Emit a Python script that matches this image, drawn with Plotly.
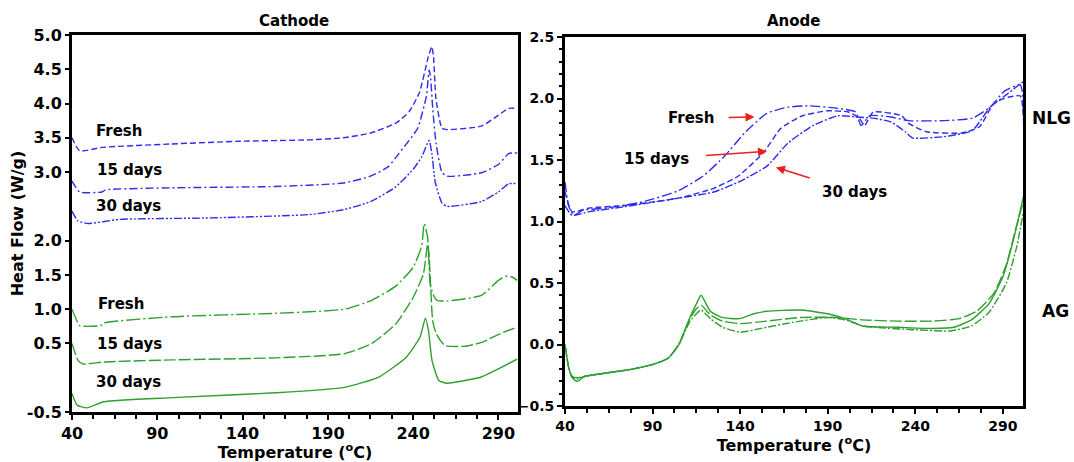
import plotly.graph_objects as go

# ---------------- Cathode (left panel) ----------------
cat_fresh_T = [40, 44.5, 57.6, 98, 138.5, 179, 199, 215, 229.6, 237.6, 243.7, 248.8, 251, 252, 253.4, 256.9, 260, 280, 290, 296, 301]
cat_fresh_Q = [3.50, 3.31, 3.36, 3.41, 3.45, 3.47, 3.50, 3.57, 3.71, 3.88, 4.16, 4.67, 4.83, 4.67, 4.07, 3.64, 3.62, 3.67, 3.83, 3.93, 3.93]

cat_15d_T = [40, 44.5, 57.6, 59.6, 98, 158.7, 199, 215, 225.5, 231.6, 237.6, 242.7, 247.8, 249.4, 250.2, 251.5, 253.5, 256.9, 260, 280, 290, 296, 301]
cat_15d_Q = [2.87, 2.71, 2.71, 2.74, 2.77, 2.79, 2.84, 2.94, 3.08, 3.27, 3.46, 3.64, 4.11, 4.49, 4.39, 3.93, 3.41, 3.00, 2.94, 2.99, 3.11, 3.27, 3.28]

cat_30d_T = [40, 43.4, 49.5, 67.7, 118, 179, 199, 215, 229.6, 240, 245, 249.4, 251, 253, 256.9, 260, 280, 290, 296, 301]
cat_30d_Q = [2.43, 2.29, 2.25, 2.31, 2.33, 2.38, 2.45, 2.57, 2.78, 3.04, 3.22, 3.46, 3.27, 2.85, 2.55, 2.50, 2.57, 2.71, 2.83, 2.83]

cat_g_fresh_T = [40, 44.6, 50.7, 56.7, 58.7, 99, 159.4, 199.7, 215.8, 230, 240, 245, 246.5, 248.5, 250, 252, 254, 260, 280, 290, 294, 298, 301]
cat_g_fresh_Q = [1.00, 0.76, 0.75, 0.76, 0.80, 0.89, 0.94, 1.00, 1.13, 1.34, 1.61, 1.92, 2.25, 2.05, 1.37, 1.20, 1.13, 1.12, 1.20, 1.42, 1.48, 1.47, 1.42]

cat_g_15d_T = [40, 43.6, 46.6, 58.7, 99, 159.4, 199.7, 215.8, 230, 240, 246, 248.5, 249.3, 251.5, 253.6, 258.7, 270.8, 280.8, 290.8, 301]
cat_g_15d_Q = [0.50, 0.25, 0.20, 0.23, 0.26, 0.29, 0.35, 0.50, 0.79, 1.17, 1.51, 1.95, 1.81, 0.83, 0.64, 0.47, 0.46, 0.52, 0.64, 0.74]

cat_g_30d_T = [40, 43, 48.7, 58.7, 99, 159.4, 199.7, 219.9, 236, 244, 247.2, 249, 251.1, 255.1, 260, 280, 290, 301]
cat_g_30d_Q = [-0.23, -0.40, -0.44, -0.35, -0.29, -0.22, -0.14, 0.01, 0.30, 0.59, 0.87, 0.69, 0.25, -0.04, -0.08, 0.01, 0.13, 0.27]

# ---------------- Anode (right panel) ----------------
nlg_fresh_T = [40, 42, 45, 50, 64, 84.5, 104.7, 118.9, 131, 143.2, 155.3, 167.5, 179.6, 195.8, 205.9, 209, 214, 226, 236, 256.5, 272.6, 282.8, 290.9, 300, 302]
nlg_fresh_Q = [1.32, 1.13, 1.05, 1.09, 1.11, 1.16, 1.25, 1.37, 1.53, 1.73, 1.88, 1.93, 1.94, 1.92, 1.89, 1.78, 1.86, 1.85, 1.82, 1.82, 1.84, 1.93, 2.06, 2.11, 1.78]

nlg_15d_T = [40, 44, 54, 74, 104.7, 125, 139, 153.3, 163.4, 175.6, 189.7, 201.8, 208, 211, 216, 232.2, 236, 246.3, 266.6, 276.7, 284.8, 292.9, 300, 302]
nlg_15d_Q = [1.24, 1.08, 1.11, 1.13, 1.19, 1.27, 1.37, 1.56, 1.76, 1.86, 1.90, 1.89, 1.84, 1.78, 1.89, 1.86, 1.80, 1.73, 1.72, 1.77, 1.96, 2.01, 2.02, 1.76]

nlg_30d_T = [40, 44, 54, 74, 104.7, 125, 139, 155.3, 167.5, 181.6, 195.8, 205.9, 216, 226, 234.2, 238.3, 256.5, 272.6, 282.8, 292.9, 300, 302]
nlg_30d_Q = [1.13, 1.05, 1.08, 1.12, 1.19, 1.24, 1.32, 1.45, 1.64, 1.78, 1.86, 1.85, 1.84, 1.81, 1.73, 1.68, 1.69, 1.74, 1.93, 2.04, 2.12, 2.14]

ag_fresh_T = [40, 42, 44, 47, 51, 64.4, 78.6, 90.8, 99, 105, 111, 115, 117.7, 123, 129.5, 139.6, 147.8, 155, 175, 190, 200, 210, 230, 250, 262, 272, 282, 290, 296, 302]
ag_fresh_Q = [0.0, -0.18, -0.27, -0.30, -0.26, -0.23, -0.20, -0.16, -0.11, 0.0, 0.21, 0.33, 0.40, 0.27, 0.22, 0.21, 0.25, 0.27, 0.28, 0.25, 0.21, 0.15, 0.14, 0.13, 0.14, 0.20, 0.33, 0.55, 0.85, 1.22]

ag_15d_T = [40, 42, 44, 47, 51, 64.4, 78.6, 90.8, 99, 105, 111, 115, 117.7, 123, 130, 140, 155, 175, 195, 210, 230, 250, 265, 275, 285, 292, 297, 302]
ag_15d_Q = [0.0, -0.18, -0.26, -0.27, -0.26, -0.23, -0.20, -0.16, -0.11, 0.0, 0.20, 0.29, 0.32, 0.24, 0.19, 0.17, 0.19, 0.22, 0.22, 0.20, 0.19, 0.19, 0.21, 0.27, 0.42, 0.65, 0.92, 1.18]

ag_30d_T = [40, 42, 44, 47, 51, 64.4, 78.6, 90.8, 99, 105, 111, 115, 117.7, 123, 130, 140, 155, 170, 190, 200, 210, 240, 260, 272, 282, 292, 298, 302]
ag_30d_Q = [0.0, -0.18, -0.26, -0.28, -0.26, -0.23, -0.20, -0.16, -0.11, 0.0, 0.18, 0.25, 0.28, 0.21, 0.14, 0.10, 0.14, 0.18, 0.22, 0.20, 0.15, 0.12, 0.11, 0.15, 0.26, 0.50, 0.80, 1.10]

BLUE = "rgb(45,45,240)"
GREEN = "rgb(45,160,45)"
RED = "rgb(235,30,30)"
FONT = "DejaVu Sans, Liberation Sans, Arial, sans-serif"

fig = go.Figure()


def add_curve(x, y, color, dash, xa, ya):
    fig.add_trace(go.Scatter(
        x=x, y=y, mode="lines", xaxis=xa, yaxis=ya,
        line=dict(color=color, width=1.4, dash=dash, shape="spline", smoothing=0.5),
        showlegend=False, hoverinfo="skip",
    ))


# cathode curves
add_curve(cat_fresh_T, cat_fresh_Q, BLUE, "6px,3px", "x", "y")
add_curve(cat_15d_T, cat_15d_Q, BLUE, "8px,3px,2px,3px", "x", "y")
add_curve(cat_30d_T, cat_30d_Q, BLUE, "8px,2px,2px,2px,2px,2px", "x", "y")
add_curve(cat_g_fresh_T, cat_g_fresh_Q, GREEN, "14px,3px,2px,3px", "x", "y")
add_curve(cat_g_15d_T, cat_g_15d_Q, GREEN, "12px,3px", "x", "y")
add_curve(cat_g_30d_T, cat_g_30d_Q, GREEN, "solid", "x", "y")

# anode curves
add_curve(nlg_fresh_T, nlg_fresh_Q, BLUE, "10px,3px,2px,3px", "x2", "y2")
add_curve(nlg_15d_T, nlg_15d_Q, BLUE, "6px,3px", "x2", "y2")
add_curve(nlg_30d_T, nlg_30d_Q, BLUE, "8px,2px,2px,2px", "x2", "y2")
add_curve(ag_fresh_T, ag_fresh_Q, GREEN, "solid", "x2", "y2")
add_curve(ag_15d_T, ag_15d_Q, GREEN, "12px,3px", "x2", "y2")
add_curve(ag_30d_T, ag_30d_Q, GREEN, "8px,2px,2px,2px", "x2", "y2")

left_tickfont = dict(family=FONT, size=16, color="black", weight="bold")
right_tickfont = dict(family=FONT, size=14, color="black", weight="bold")
titlefont = dict(family=FONT, size=16, color="black", weight="bold")


def x_axis(domain, anchor, tickfont):
    return dict(
        domain=domain, anchor=anchor, automargin=False,
        range=[40, 301.5], tick0=40, dtick=50, ticks="outside", ticklen=5, tickwidth=1.5,
        tickcolor="black", showline=True, linewidth=3, linecolor="black", mirror=True,
        showgrid=False, zeroline=False, tickfont=tickfont,
        minor=dict(tick0=40, dtick=12.5, ticks="outside", ticklen=4, tickcolor="black", showgrid=False),
        title=dict(text="Temperature (<sup>o</sup>C)", font=titlefont, standoff=0),
    )


fig.update_layout(
    width=1074, height=462,
    margin=dict(l=0, r=0, t=0, b=0, pad=0),
    paper_bgcolor="white", plot_bgcolor="white",
    xaxis=x_axis([72 / 1074, 518 / 1074], "y", left_tickfont),
    yaxis=dict(
        domain=[1 - 412 / 462, 1 - 35 / 462], anchor="x", range=[-0.5, 5.0], automargin=False,
        tickvals=[-0.5, 0.5, 1.0, 1.5, 2.0, 3.0, 3.5, 4.0, 4.5, 5.0],
        ticktext=["-0.5", "0.5", "1.0", "1.5", "2.0", "3.0", "3.5", "4.0", "4.5", "5.0"],
        ticks="outside", ticklen=4, tickwidth=1.5, tickcolor="black",
        showline=True, linewidth=3, linecolor="black", mirror=True,
        showgrid=False, zeroline=False, tickfont=left_tickfont,
        title=dict(text="Heat Flow (W/g)", font=titlefont, standoff=0),
    ),
    xaxis2=x_axis([565 / 1074, 1023 / 1074], "y2", right_tickfont),
    yaxis2=dict(
        domain=[1 - 406 / 462, 1 - 37 / 462], anchor="x2", range=[-0.5, 2.5], automargin=False,
        tick0=-0.5, dtick=0.5, tickformat=".1f",
        ticks="outside", ticklen=5, tickwidth=1.5, tickcolor="black",
        minor=dict(dtick=0.1, ticks="outside", ticklen=3, tickcolor="black", showgrid=False),
        showline=True, linewidth=3, linecolor="black", mirror=True,
        showgrid=False, zeroline=False, tickfont=right_tickfont,
    ),
)

ann_font = dict(family=FONT, size=15, color="black", weight="bold")
side_font = dict(family=FONT, size=17, color="black", weight="bold")


def paper_label(text, px, py, font):
    return dict(text=text, xref="paper", yref="paper", x=px / 1074, y=1 - py / 462,
                xanchor="center", yanchor="middle", showarrow=False, font=font)


def data_label(text, xa, ya, x, y):
    return dict(text=text, xref=xa, yref=ya, x=x, y=y, xanchor="center", yanchor="middle",
                showarrow=False, font=ann_font)


def arrow_label(text, label_xy, head_xy, gap):
    # label placed at label_xy with a red arrow pointing to head_xy on the anode curves
    return dict(
        text=text, x=head_xy[0], y=head_xy[1], xref="x2", yref="y2",
        ax=label_xy[0], ay=label_xy[1], axref="x2", ayref="y2",
        showarrow=True, arrowhead=2, arrowsize=1.2, arrowwidth=1.5, arrowcolor=RED,
        startstandoff=gap, font=ann_font,
    )


annotations = [
    paper_label("Cathode", 294, 21, ann_font),
    paper_label("Anode", 794, 21, ann_font),
    # cathode curve labels
    data_label("Fresh", "x", "y", 67.5, 3.60),
    data_label("15 days", "x", "y", 74, 3.03),
    data_label("30 days", "x", "y", 73, 2.51),
    data_label("Fresh", "x", "y", 68.5, 1.08),
    data_label("15 days", "x", "y", 74, 0.49),
    data_label("30 days", "x", "y", 73, -0.06),
    # anode curve labels with pointers
    arrow_label("Fresh", (112, 1.84), (148.2, 1.85), 13),
    arrow_label("15 days", (92, 1.51), (155.3, 1.57), 16),
    arrow_label("30 days", (205.5, 1.24), (160.4, 1.44), 12),
    paper_label("NLG", 1051, 118, side_font),
    paper_label("AG", 1055, 311, side_font),
]

fig.update_layout(annotations=annotations)

# remove the default page margin so the figure sits at the window origin
fig.write_html("out.html", post_script="document.body.style.margin='0';")
